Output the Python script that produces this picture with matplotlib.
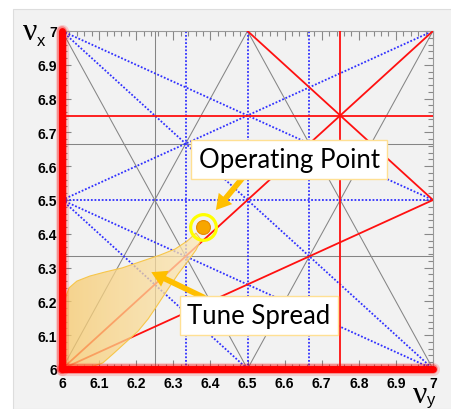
import matplotlib
matplotlib.use("Agg")
import matplotlib.pyplot as plt
import numpy as np
from matplotlib.patches import Polygon, Rectangle, FancyArrowPatch
from matplotlib.ticker import MultipleLocator, FuncFormatter

# resonance lines, endpoints given as (nu_y, nu_x)
red_lines = [
    ((6.0, 6.0), (7.0, 7.0)),
    ((6.0, 6.0), (7.0, 6.5)),
    ((6.5, 7.0), (7.0, 6.5)),
    ((6.0, 6.75), (7.0, 6.75)),
    ((6.75, 6.0), (6.75, 7.0)),
]
blue_lines = [
    ((6.3333, 6.0), (6.3333, 7.0)),
    ((6.5, 6.0), (6.5, 7.0)),
    ((6.6667, 6.0), (6.6667, 7.0)),
    ((6.0, 6.5), (7.0, 6.5)),
    ((6.0, 7.0), (7.0, 6.5)),
    ((6.0, 7.0), (7.0, 6.0)),
    ((6.0, 6.5), (7.0, 7.0)),
    ((6.0, 6.5), (7.0, 6.0)),
    ((6.0, 6.5), (6.5, 6.0)),
]
gray_lines = [
    ((6.0, 6.0), (6.5, 7.0)),
    ((6.0, 7.0), (6.5, 6.0)),
    ((6.5, 7.0), (7.0, 6.0)),
    ((6.5, 6.0), (7.0, 7.0)),
    ((6.0, 6.3333), (7.0, 6.3333)),
    ((6.0, 6.6667), (7.0, 6.6667)),
    ((6.25, 6.0), (6.25, 7.0)),
]
integer_lines = [
    ((6.0, 6.0), (6.0, 7.0)),
    ((6.0, 6.0), (7.0, 6.0)),
]

# working point and footprint of the tune spread
op_point = (6.38, 6.42)
spread_nuy = [6.000, 6.000, 6.003, 6.008, 6.019, 6.040, 6.075, 6.116, 6.162, 6.218,
              6.264, 6.305, 6.338, 6.361, 6.375, 6.361, 6.340, 6.313, 6.286, 6.259,
              6.232, 6.205, 6.170, 6.137, 6.110, 6.070, 6.027]
spread_nux = [6.012, 6.074, 6.148, 6.207, 6.240, 6.260, 6.275, 6.287, 6.299, 6.320,
              6.337, 6.355, 6.379, 6.402, 6.382, 6.352, 6.320, 6.281, 6.237, 6.192,
              6.148, 6.112, 6.077, 6.044, 6.018, 6.003, 5.997]

fig = plt.figure(figsize=(4.51, 4.10), dpi=100)
fig.patch.set_facecolor('white')
bg = Rectangle((13 / 451, 0), 1, 400 / 410, transform=fig.transFigure,
               facecolor='#f2f2f2', edgecolor='#dddddd', lw=0.8, zorder=-10)
fig.patches.append(bg)
ax = fig.add_axes([62 / 451, 40 / 410, 371 / 451, 338 / 410])
ax.set_facecolor('#f2f2f2')

for (x0, y0), (x1, y1) in gray_lines:
    ax.plot([x0, x1], [y0, y1], color='#858585', lw=0.75, zorder=1)
for (x0, y0), (x1, y1) in blue_lines:
    ax.plot([x0, x1], [y0, y1], color='#3030ff', lw=1.3, ls=(0, (1, 1)), zorder=2)
for (x0, y0), (x1, y1) in red_lines:
    ax.plot([x0, x1], [y0, y1], color='#ff1010', lw=1.3, zorder=3)

# tune spread with a left-to-right shading
pts = np.column_stack([spread_nuy, spread_nux])
poly = Polygon(pts, closed=True, facecolor='none', edgecolor='#f7c64a', lw=0.8, zorder=6)
ax.add_patch(poly)
c0 = np.array([0.97, 0.79, 0.42])
c1 = np.array([0.99, 0.91, 0.72])
t = np.linspace(0, 1, 200)
grad = np.zeros((2, 200, 4))
grad[:, :, :3] = c0 + (c1 - c0) * t[:, None]
grad[:, :, 3] = 0.75
im = ax.imshow(grad, extent=[min(spread_nuy), max(spread_nuy), min(spread_nux), max(spread_nux)],
               aspect='auto', origin='lower', zorder=5, interpolation='bilinear')
im.set_clip_path(poly)
ax.set_xlim(6, 7)
ax.set_ylim(6, 7)

# integer resonances drawn with a soft glow
for (x0, y0), (x1, y1) in integer_lines:
    for lw, a in [(9.5, 0.15), (7, 0.35), (5, 1.0)]:
        ax.plot([x0, x1], [y0, y1], color='#ff0000', lw=lw, alpha=a,
                solid_capstyle='round', clip_on=False, zorder=7)

# operating point
ax.plot(*op_point, 'o', ms=18.5, mfc='none', mec='#ffff00', mew=2.3, zorder=8)
ax.plot(*op_point, 'o', ms=10, mfc='#f7a600', mec='#e88a00', mew=0.8, zorder=8)

# labels and arrows
arrow_kw = dict(arrowstyle='simple,head_length=0.9,head_width=1.05,tail_width=0.34',
                mutation_scale=12, color='#ffbf00', lw=0, zorder=9)
ax.add_patch(FancyArrowPatch((6.491, 6.571), (6.410, 6.464), **arrow_kw))
ax.add_patch(FancyArrowPatch((6.391, 6.207), (6.234, 6.290), **arrow_kw))

box_kw = dict(boxstyle='square,pad=0.28', fc='white', ec='#ffe093', lw=1)
ax.text(6.612, 6.620, 'Operating Point', ha='center', va='center', fontsize=18.5,
        family='Lato', bbox=box_kw, zorder=10)
ax.text(6.531, 6.158, 'Tune Spread', ha='center', va='center', fontsize=18.5,
        family='Lato', bbox=box_kw, zorder=10)

# axes in the style of a ROOT frame: inward ticks on all sides
ax.xaxis.set_major_locator(MultipleLocator(0.1))
ax.xaxis.set_minor_locator(MultipleLocator(0.02))
ax.yaxis.set_major_locator(MultipleLocator(0.1))
ax.yaxis.set_minor_locator(MultipleLocator(0.02))
fmt = FuncFormatter(lambda v, p: '%g' % round(v, 1))
ax.xaxis.set_major_formatter(fmt)
ax.yaxis.set_major_formatter(fmt)
ax.tick_params(which='both', direction='in', top=True, right=True, color='#888888')
ax.tick_params(which='major', length=6.5, width=0.8)
ax.tick_params(which='minor', length=3.5, width=0.8)
ax.tick_params(axis='x', pad=5)
ax.tick_params(axis='y', pad=3.5)
for lab in ax.get_xticklabels() + ax.get_yticklabels():
    lab.set_fontweight('bold')
    lab.set_fontsize(10)
    lab.set_family('Liberation Sans')
for sp in ax.spines.values():
    sp.set_color('#999999')
    sp.set_linewidth(0.8)

# axis titles: upright nu with a small sans subscript
fig.text(23 / 451, 1 - 40 / 410, 'ν', fontsize=23, family='Liberation Serif',
         ha='left', va='baseline')
fig.text(37 / 451, 1 - 46 / 410, 'x', fontsize=12, family='Liberation Sans',
         ha='left', va='baseline')
fig.text(413 / 451, 1 - 403 / 410, 'ν', fontsize=23, family='Liberation Serif',
         ha='left', va='baseline')
fig.text(427 / 451, 1 - 405 / 410, 'y', fontsize=12, family='Liberation Sans',
         ha='left', va='baseline')

fig.savefig('out.png', dpi=100, facecolor=fig.get_facecolor())
